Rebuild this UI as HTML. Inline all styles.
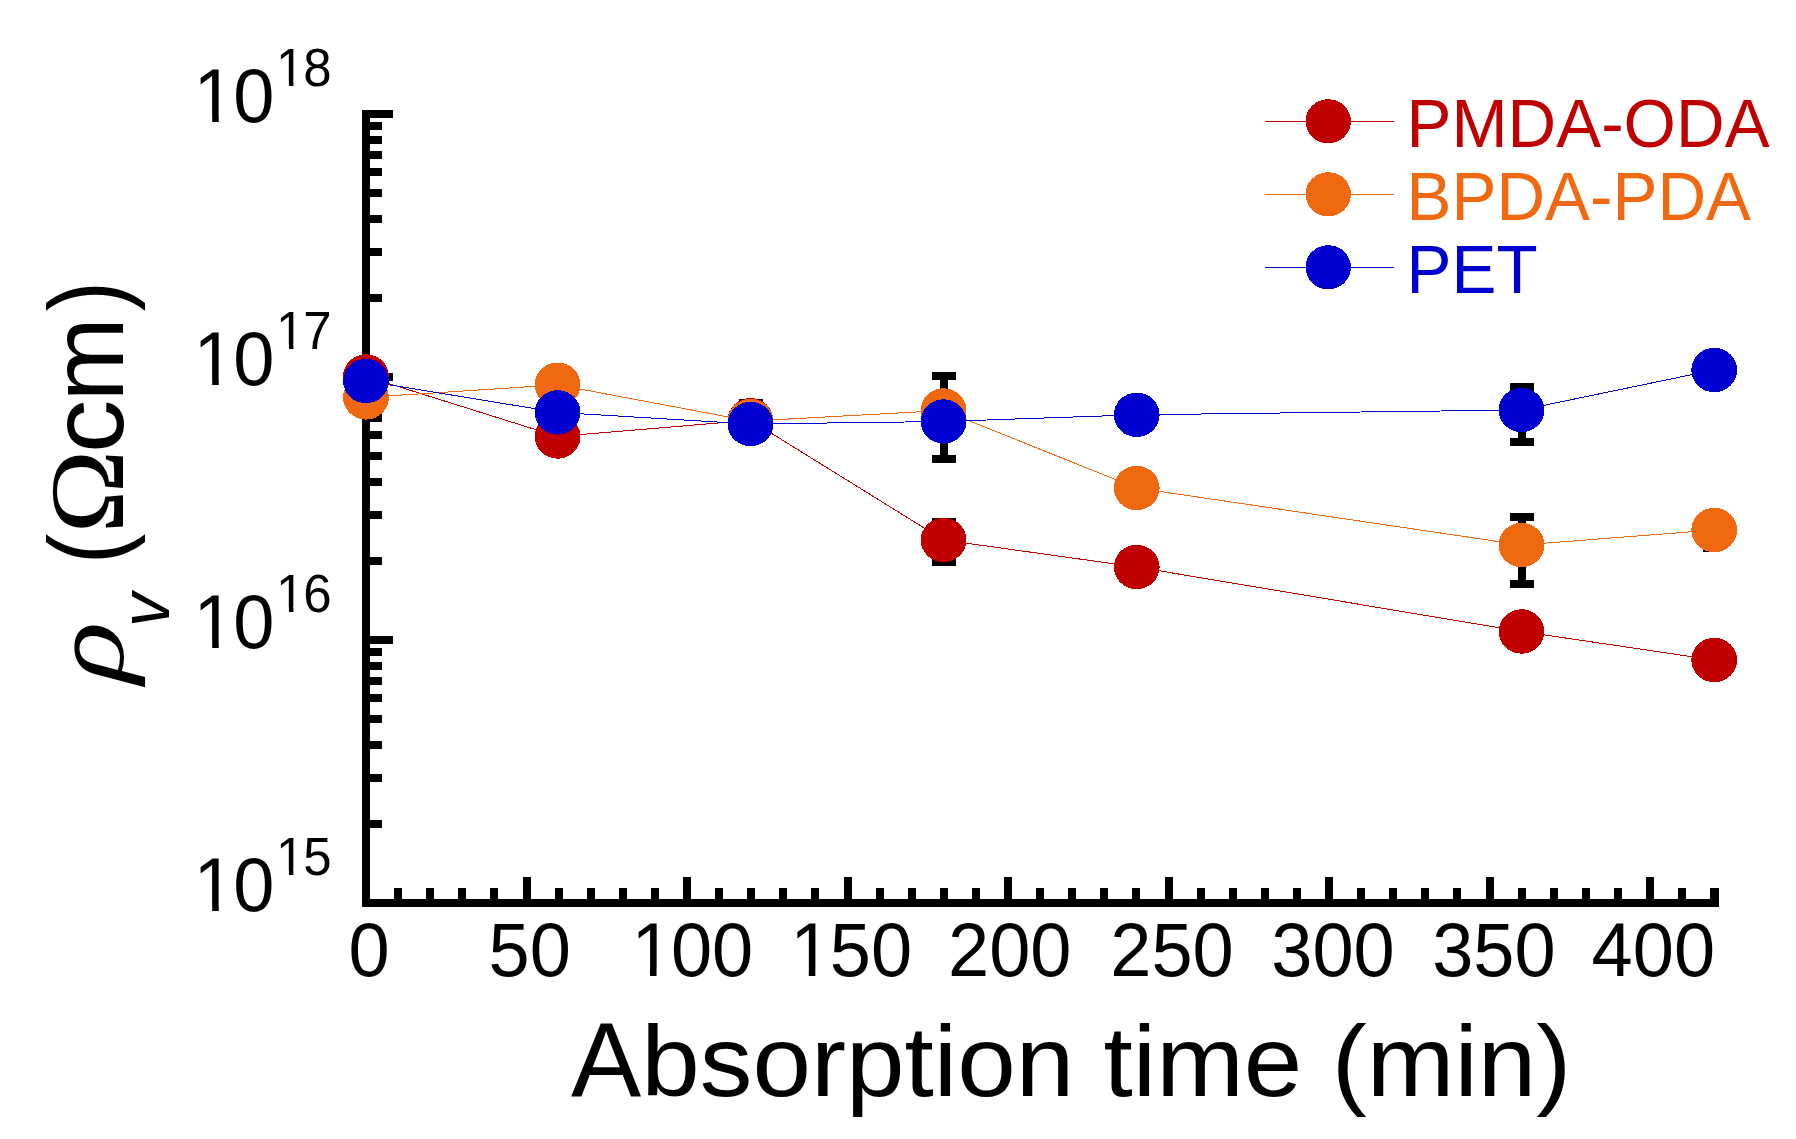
<!DOCTYPE html>
<html lang="en">
<head>
<meta charset="utf-8">
<title>Volume resistivity vs absorption time</title>
<style>
html,body{margin:0;padding:0;background:#fff;}
body{width:1796px;height:1139px;overflow:hidden;}
svg{display:block;}
text{font-family:"Liberation Sans",sans-serif;fill:#000;}
.ser{font-family:"Liberation Serif",serif;}
</style>
</head>
<body>
<svg width="1796" height="1139" viewBox="0 0 1796 1139">
<rect x="0" y="0" width="1796" height="1139" fill="#fff"/>
<g fill="#000" shape-rendering="crispEdges">
<rect x="362" y="110" width="8" height="797"/>
<rect x="362" y="899" width="1357" height="8"/>
<rect x="362" y="899.0" width="31" height="8"/>
<rect x="362" y="819.8" width="20" height="8"/>
<rect x="362" y="773.5" width="20" height="8"/>
<rect x="362" y="740.7" width="20" height="8"/>
<rect x="362" y="715.2" width="20" height="8"/>
<rect x="362" y="694.3" width="20" height="8"/>
<rect x="362" y="676.7" width="20" height="8"/>
<rect x="362" y="661.5" width="20" height="8"/>
<rect x="362" y="648.0" width="20" height="8"/>
<rect x="362" y="636.0" width="31" height="8"/>
<rect x="362" y="556.8" width="20" height="8"/>
<rect x="362" y="510.5" width="20" height="8"/>
<rect x="362" y="477.7" width="20" height="8"/>
<rect x="362" y="452.2" width="20" height="8"/>
<rect x="362" y="431.3" width="20" height="8"/>
<rect x="362" y="413.7" width="20" height="8"/>
<rect x="362" y="398.5" width="20" height="8"/>
<rect x="362" y="385.0" width="20" height="8"/>
<rect x="362" y="373.0" width="31" height="8"/>
<rect x="362" y="293.8" width="20" height="8"/>
<rect x="362" y="247.5" width="20" height="8"/>
<rect x="362" y="214.7" width="20" height="8"/>
<rect x="362" y="189.2" width="20" height="8"/>
<rect x="362" y="168.3" width="20" height="8"/>
<rect x="362" y="150.7" width="20" height="8"/>
<rect x="362" y="135.5" width="20" height="8"/>
<rect x="362" y="122.0" width="20" height="8"/>
<rect x="362" y="110.0" width="31" height="8"/>
<rect x="394.1" y="888" width="8" height="15"/>
<rect x="426.2" y="888" width="8" height="15"/>
<rect x="458.3" y="888" width="8" height="15"/>
<rect x="490.4" y="888" width="8" height="15"/>
<rect x="522.5" y="877" width="8" height="26"/>
<rect x="554.6" y="888" width="8" height="15"/>
<rect x="586.7" y="888" width="8" height="15"/>
<rect x="618.8" y="888" width="8" height="15"/>
<rect x="650.9" y="888" width="8" height="15"/>
<rect x="683.0" y="877" width="8" height="26"/>
<rect x="715.1" y="888" width="8" height="15"/>
<rect x="747.2" y="888" width="8" height="15"/>
<rect x="779.3" y="888" width="8" height="15"/>
<rect x="811.4" y="888" width="8" height="15"/>
<rect x="843.5" y="877" width="8" height="26"/>
<rect x="875.6" y="888" width="8" height="15"/>
<rect x="907.7" y="888" width="8" height="15"/>
<rect x="939.8" y="888" width="8" height="15"/>
<rect x="971.9" y="888" width="8" height="15"/>
<rect x="1004.0" y="877" width="8" height="26"/>
<rect x="1036.1" y="888" width="8" height="15"/>
<rect x="1068.2" y="888" width="8" height="15"/>
<rect x="1100.3" y="888" width="8" height="15"/>
<rect x="1132.4" y="888" width="8" height="15"/>
<rect x="1164.5" y="877" width="8" height="26"/>
<rect x="1196.6" y="888" width="8" height="15"/>
<rect x="1228.7" y="888" width="8" height="15"/>
<rect x="1260.8" y="888" width="8" height="15"/>
<rect x="1292.9" y="888" width="8" height="15"/>
<rect x="1325.0" y="877" width="8" height="26"/>
<rect x="1357.1" y="888" width="8" height="15"/>
<rect x="1389.2" y="888" width="8" height="15"/>
<rect x="1421.3" y="888" width="8" height="15"/>
<rect x="1453.4" y="888" width="8" height="15"/>
<rect x="1485.5" y="877" width="8" height="26"/>
<rect x="1517.6" y="888" width="8" height="15"/>
<rect x="1549.7" y="888" width="8" height="15"/>
<rect x="1581.8" y="888" width="8" height="15"/>
<rect x="1613.9" y="888" width="8" height="15"/>
<rect x="1646.0" y="877" width="8" height="26"/>
<rect x="1678.1" y="888" width="8" height="15"/>
<rect x="1710.2" y="888" width="9" height="15"/>
</g>
<g font-size="74">
<g transform="translate(192.0,911.0) scale(1,1.027)"><text font-size="74" x="1.60 41.16" >10</text><rect x="5.94" y="-6.32" width="14.27" height="6.87" fill="#fff"/><rect x="26.75" y="-6.32" width="13.69" height="6.87" fill="#fff"/></g>
<g transform="translate(275.0,874.8) scale(1,1.043)"><text font-size="51" x="1.10 28.36" >15</text><rect x="4.09" y="-4.36" width="9.84" height="4.73" fill="#fff"/><rect x="18.43" y="-4.36" width="9.44" height="4.73" fill="#fff"/></g>
<g transform="translate(192.0,648.0) scale(1,1.027)"><text font-size="74" x="1.60 41.16" >10</text><rect x="5.94" y="-6.32" width="14.27" height="6.87" fill="#fff"/><rect x="26.75" y="-6.32" width="13.69" height="6.87" fill="#fff"/></g>
<g transform="translate(275.0,611.8) scale(1,1.043)"><text font-size="51" x="1.10 28.36" >16</text><rect x="4.09" y="-4.36" width="9.84" height="4.73" fill="#fff"/><rect x="18.43" y="-4.36" width="9.44" height="4.73" fill="#fff"/></g>
<g transform="translate(192.0,385.0) scale(1,1.027)"><text font-size="74" x="1.60 41.16" >10</text><rect x="5.94" y="-6.32" width="14.27" height="6.87" fill="#fff"/><rect x="26.75" y="-6.32" width="13.69" height="6.87" fill="#fff"/></g>
<g transform="translate(275.0,348.8) scale(1,1.043)"><text font-size="51" x="1.10 28.36" >17</text><rect x="4.09" y="-4.36" width="9.84" height="4.73" fill="#fff"/><rect x="18.43" y="-4.36" width="9.44" height="4.73" fill="#fff"/></g>
<g transform="translate(192.0,122.0) scale(1,1.027)"><text font-size="74" x="1.60 41.16" >10</text><rect x="5.94" y="-6.32" width="14.27" height="6.87" fill="#fff"/><rect x="26.75" y="-6.32" width="13.69" height="6.87" fill="#fff"/></g>
<g transform="translate(275.0,85.8) scale(1,1.043)"><text font-size="51" x="1.10 28.36" >18</text><rect x="4.09" y="-4.36" width="9.84" height="4.73" fill="#fff"/><rect x="18.43" y="-4.36" width="9.44" height="4.73" fill="#fff"/></g>
</g>
<g>
<g transform="translate(369.0,976.2) scale(1,1.027)"><text font-size="74" text-anchor="middle" >0</text></g>
<g transform="translate(529.7,976.2) scale(1,1.027)"><text font-size="74" text-anchor="middle" >50</text></g>
<g transform="translate(691.5,976.2) scale(1,1.027)"><text font-size="74" x="-60.13 -20.58 20.58" >100</text><rect x="-55.80" y="-6.32" width="14.27" height="6.87" fill="#fff"/><rect x="-34.98" y="-6.32" width="13.69" height="6.87" fill="#fff"/></g>
<g transform="translate(850.3,976.2) scale(1,1.027)"><text font-size="74" x="-60.13 -20.58 20.58" >150</text><rect x="-55.80" y="-6.32" width="14.27" height="6.87" fill="#fff"/><rect x="-34.98" y="-6.32" width="13.69" height="6.87" fill="#fff"/></g>
<g transform="translate(1009.7,976.2) scale(1,1.027)"><text font-size="74" text-anchor="middle" >200</text></g>
<g transform="translate(1172.0,976.2) scale(1,1.027)"><text font-size="74" text-anchor="middle" >250</text></g>
<g transform="translate(1333.0,976.2) scale(1,1.027)"><text font-size="74" text-anchor="middle" >300</text></g>
<g transform="translate(1493.9,976.2) scale(1,1.027)"><text font-size="74" text-anchor="middle" >350</text></g>
<g transform="translate(1653.3,976.2) scale(1,1.027)"><text font-size="74" text-anchor="middle" >400</text></g>
</g>
<g transform="translate(571.0,1095.8) scale(1,1.006)"><text font-size="105.3" text-anchor="start" >A</text></g>
<g transform="translate(641.2,1095.8) scale(1,0.949)"><text font-size="105.3" text-anchor="start" >bsorption time (min)</text></g>
<text class="ser" transform="translate(123.3,689.5) rotate(-90) scale(1,1.03) skewX(-15) scale(1.24,1)" font-size="100.7">ρ</text>
<text transform="translate(169,627) rotate(-90) scale(1,1.03)" font-size="68" font-style="italic">v</text>
<text transform="translate(123.3,564.0) rotate(-90) scale(0.9,1.047)" font-size="100.7" >(</text>
<text transform="translate(123.3,533.5) rotate(-90) scale(1.12,1.054)" font-size="100.7" class="ser">Ω</text>
<text transform="translate(123.3,453.0) rotate(-90) scale(1.06,1.024)" font-size="100.7" >c</text>
<text transform="translate(123.3,401.3) rotate(-90) scale(1,1.024)" font-size="100.7" >m</text>
<text transform="translate(123.3,311.3) rotate(-90) scale(0.9,1.047)" font-size="100.7" >)</text>
<g fill="#000" shape-rendering="crispEdges">
<rect x="738.5" y="399.0" width="24" height="8"/><rect x="738.5" y="434.0" width="24" height="8"/><rect x="746.5" y="403.0" width="8" height="35.0"/>
<rect x="931.6" y="518.0" width="24" height="8"/><rect x="931.6" y="558.0" width="24" height="8"/><rect x="939.6" y="522.0" width="8" height="40.0"/>
</g>
<polyline points="366.0,376.4 557.6,436.5 750.5,420.3 943.6,540.0 1136.7,567.0 1521.5,631.5 1714.2,660.0" fill="none" stroke="#c00000" stroke-width="1" shape-rendering="crispEdges"/>
<g fill="#c00000" shape-rendering="crispEdges">
<ellipse cx="366.0" cy="376.4" rx="22.9" ry="22.2"/>
<ellipse cx="557.6" cy="436.5" rx="22.9" ry="22.2"/>
<ellipse cx="750.5" cy="420.3" rx="22.9" ry="22.2"/>
<ellipse cx="943.6" cy="540.0" rx="22.9" ry="22.2"/>
<ellipse cx="1136.7" cy="567.0" rx="22.9" ry="22.2"/>
<ellipse cx="1521.5" cy="631.5" rx="22.9" ry="22.2"/>
<ellipse cx="1714.2" cy="660.0" rx="22.9" ry="22.2"/>
</g>
<g fill="#000" shape-rendering="crispEdges">
<rect x="931.6" y="372.0" width="24" height="8"/><rect x="931.6" y="455.0" width="24" height="8"/><rect x="939.6" y="376.0" width="8" height="83.0"/>
<rect x="1509.5" y="513.0" width="24" height="8"/><rect x="1509.5" y="580.0" width="24" height="8"/><rect x="1517.5" y="517.0" width="8" height="67.0"/>
<rect x="1703" y="544" width="13" height="8"/></g>
<polyline points="366.0,397.4 557.6,384.8 750.5,421.1 943.6,410.5 1136.7,488.0 1521.5,545.0 1714.2,530.0" fill="none" stroke="#f06810" stroke-width="1" shape-rendering="crispEdges"/>
<g fill="#f06810" shape-rendering="crispEdges">
<ellipse cx="366.0" cy="397.4" rx="22.9" ry="22.2"/>
<ellipse cx="557.6" cy="384.8" rx="22.9" ry="22.2"/>
<ellipse cx="750.5" cy="421.1" rx="22.9" ry="22.2"/>
<ellipse cx="943.6" cy="410.5" rx="22.9" ry="22.2"/>
<ellipse cx="1136.7" cy="488.0" rx="22.9" ry="22.2"/>
<ellipse cx="1521.5" cy="545.0" rx="22.9" ry="22.2"/>
<ellipse cx="1714.2" cy="530.0" rx="22.9" ry="22.2"/>
</g>
<g fill="#000" shape-rendering="crispEdges">
<rect x="1509.5" y="383.0" width="24" height="8"/><rect x="1509.5" y="438.0" width="24" height="8"/><rect x="1517.5" y="387.0" width="8" height="55.0"/>
</g>
<polyline points="366.0,381.0 557.6,412.4 750.5,424.0 943.6,421.5 1136.7,414.8 1521.5,410.0 1714.2,370.0" fill="none" stroke="#0000d0" stroke-width="1" shape-rendering="crispEdges"/>
<g fill="#0000d0" shape-rendering="crispEdges">
<ellipse cx="366.0" cy="381.0" rx="22.9" ry="22.2"/>
<ellipse cx="557.6" cy="412.4" rx="22.9" ry="22.2"/>
<ellipse cx="750.5" cy="424.0" rx="22.9" ry="22.2"/>
<ellipse cx="943.6" cy="421.5" rx="22.9" ry="22.2"/>
<ellipse cx="1136.7" cy="414.8" rx="22.9" ry="22.2"/>
<ellipse cx="1521.5" cy="410.0" rx="22.9" ry="22.2"/>
<ellipse cx="1714.2" cy="370.0" rx="22.9" ry="22.2"/>
</g>
<rect x="1265" y="121.0" width="129" height="1" fill="#c00000" shape-rendering="crispEdges"/>
<ellipse cx="1328.2" cy="121.3" rx="22.7" ry="22.1" fill="#c00000" shape-rendering="crispEdges"/>
<g transform="translate(1406.5,146.7) scale(1,1.015)"><text font-size="67.4" text-anchor="start" style="fill:#c00000">PMDA-ODA</text></g>
<rect x="1265" y="194.0" width="129" height="1" fill="#f06810" shape-rendering="crispEdges"/>
<ellipse cx="1328.2" cy="194.3" rx="22.7" ry="22.1" fill="#f06810" shape-rendering="crispEdges"/>
<g transform="translate(1406.5,219.7) scale(1,1.015)"><text font-size="67.4" text-anchor="start" style="fill:#f06810">BPDA-PDA</text></g>
<rect x="1265" y="267.0" width="129" height="1" fill="#0000d0" shape-rendering="crispEdges"/>
<ellipse cx="1328.2" cy="267.3" rx="22.7" ry="22.1" fill="#0000d0" shape-rendering="crispEdges"/>
<g transform="translate(1406.5,292.7) scale(1,1.015)"><text font-size="67.4" text-anchor="start" style="fill:#0000d0">PET</text></g>
</svg>
</body>
</html>
